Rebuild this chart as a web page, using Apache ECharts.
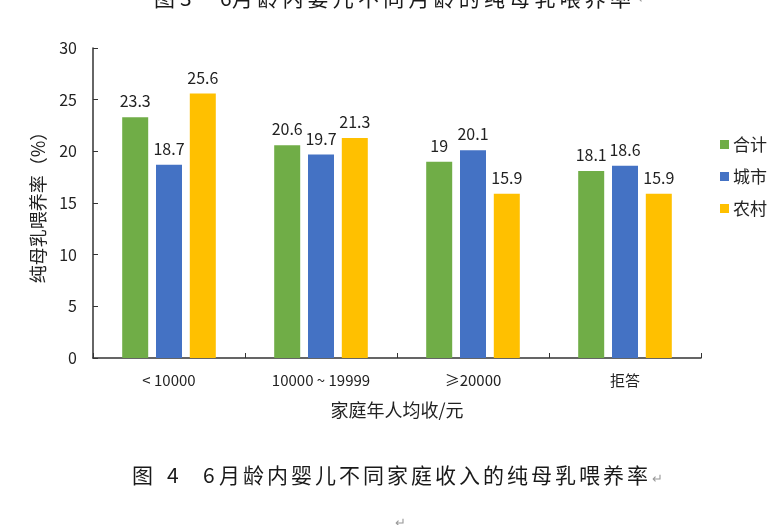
<!DOCTYPE html>
<html>
<head>
<meta charset="utf-8">
<script src="https://cdn.jsdelivr.net/npm/echarts@6/dist/echarts.min.js"></script>
<style>
  html, body { margin: 0; padding: 0; background: #fff; }
  #container { width: 779px; height: 525px; }
</style>
</head>
<body>
<div id="container"></div>
<script>
// 家庭年人均收入分组
var categories = ['< 10000', '10000 ~ 19999', '≥20000', '拒答'];
var seriesNames = ['合计', '城市', '农村'];
var totalData = [23.3, 20.6, 19, 18.1];
var cityData = [18.7, 19.7, 20.1, 18.6];
var ruralData = [25.6, 21.3, 15.9, 15.9];
var yTicks = { min: 0, max: 30, interval: 5 };

var font = '"Noto Sans CJK SC", "Noto Sans", sans-serif';
var colors = ['#70AD47', '#4472C4', '#FFC000'];

function barSeries(name, data, color) {
	return {
		name: name,
		type: 'bar',
		data: data,
		barWidth: 26,
		barGap: '30%',
		itemStyle: { color: color },
		label: {
			show: true,
			position: 'top',
			distance: 8,
			color: '#222',
			fontSize: 16,
			fontFamily: font
		}
	};
}

// 文档里的图题字距较宽，逐字摆放
function captionChars(str, x, y, step) {
	var out = [];
	for (var i = 0; i < str.length; i++) {
		out.push({
			type: 'text',
			x: x + i * step,
			y: y,
			style: {
				text: str.charAt(i),
				fill: '#1a1a1a',
				fontSize: 21,
				fontFamily: font,
				verticalAlign: 'middle'
			}
		});
	}
	return out;
}

function plainText(str, x, y, size, color) {
	return {
		type: 'text', x: x, y: y,
		style: { text: str, fill: color, fontSize: size, fontFamily: font, verticalAlign: 'middle' }
	};
}

var graphics = [];
// 上一张图的标题，页面顶部只露出下半截
graphics.push(plainText('图', 154, -2, 21, '#1a1a1a'));
graphics.push(plainText('3', 180, -2, 21, '#1a1a1a'));
graphics.push(plainText('6', 220, -2, 21, '#1a1a1a'));
graphics = graphics.concat(captionChars('月龄内婴儿不同月龄的纯母乳喂养率', 232, -2, 25.2));
graphics.push(plainText('↵', 638, -2, 13, '#999'));
// 本图标题
graphics.push(plainText('图', 132, 475, 21, '#1a1a1a'));
graphics.push(plainText('4', 167, 475, 21, '#1a1a1a'));
graphics.push(plainText('6', 203, 475, 21, '#1a1a1a'));
graphics = graphics.concat(captionChars('月龄内婴儿不同家庭收入的纯母乳喂养率', 219, 475, 24));
graphics.push(plainText('↵', 652, 478, 13, '#999'));
graphics.push(plainText('↵', 395, 522, 13, '#999'));

var option = {
	animation: false,
	color: colors,
	grid: { left: 93, right: 78, top: 48, bottom: 167 },
	legend: {
		orient: 'vertical',
		left: 715,
		top: 131,
		itemWidth: 9,
		itemHeight: 9,
		itemGap: 15,
		icon: 'rect',
		data: seriesNames,
		textStyle: { fontSize: 17, color: '#222', fontFamily: font, padding: [0, 0, 0, -1] }
	},
	xAxis: {
		type: 'category',
		data: categories,
		name: '家庭年人均收/元',
		nameLocation: 'middle',
		nameGap: 43,
		nameTextStyle: { fontSize: 18, color: '#222', fontFamily: font },
		axisLine: { lineStyle: { color: '#333', width: 1.5 } },
		axisTick: { show: true, length: 5, inside: true, lineStyle: { color: '#333' } },
		axisLabel: { fontSize: 15, color: '#222', fontFamily: font, margin: 15 }
	},
	yAxis: {
		type: 'value',
		min: yTicks.min,
		max: yTicks.max,
		interval: yTicks.interval,
		name: '纯母乳喂养率（%）',
		nameLocation: 'middle',
		nameGap: 46,
		nameTextStyle: { fontSize: 18, color: '#222', fontFamily: font },
		splitLine: { show: false },
		axisLine: { show: true, lineStyle: { color: '#333', width: 1.5 } },
		axisTick: { show: true, length: 5, inside: true, lineStyle: { color: '#333' } },
		axisLabel: { fontSize: 16, color: '#222', fontFamily: font, margin: 16 }
	},
	graphic: graphics,
	series: [
		barSeries(seriesNames[0], totalData, colors[0]),
		barSeries(seriesNames[1], cityData, colors[1]),
		barSeries(seriesNames[2], ruralData, colors[2])
	]
};

var myChart = echarts.init(document.getElementById('container'));
myChart.setOption(option);
</script>
</body>
</html>
